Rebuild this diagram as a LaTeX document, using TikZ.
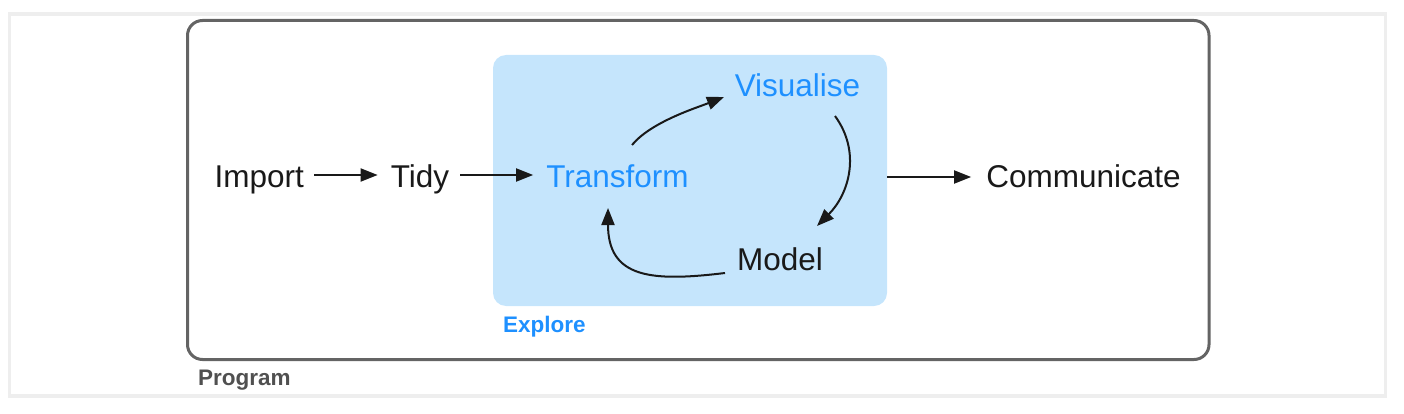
\documentclass[tikz,border=0pt]{standalone}
\usepackage{fontspec}
\setmainfont{Liberation Sans}
\usetikzlibrary{arrows.meta,calc}
\definecolor{exblue}{RGB}{30,144,255}
\definecolor{exfill}{RGB}{197,229,252}
\definecolor{framegray}{RGB}{238,238,238}
\definecolor{boxgray}{RGB}{100,100,100}
\definecolor{labgray}{RGB}{80,80,80}
\definecolor{ink}{RGB}{25,25,25}
\begin{document}
\begin{tikzpicture}[x=1pt,y=-1pt,
  lab/.style={font=\fontsize{31.5pt}{38pt}\selectfont, inner sep=0pt, text height=24pt, text depth=0pt, text=ink},
  bluelab/.style={lab, text=exblue},
  small/.style={font=\fontsize{22.5pt}{27pt}\selectfont\bfseries, inner sep=0pt, anchor=base west},
  arr/.style={draw=ink, line width=2pt, -{Triangle[length=17pt,width=13pt]}}
]
\useasboundingbox (0,0) rectangle (1404,414);
\draw[framegray, line width=3.5pt] (9.5,14) rectangle (1385.5,396);
\node[draw=boxgray, line width=3pt, rounded corners=15pt, minimum width=1021.5pt, minimum height=339pt, inner sep=0pt] (program) at (698.25,190) {};
\node[fill=exfill, rounded corners=13pt, minimum width=394pt, minimum height=251pt, inner sep=0pt] (explore) at (690,180.5) {};
\node[small, text=exblue] (explorelab) at (503,332) {Explore};
\node[small, text=labgray] (programlab) at (198,385) {Program};

\node[lab] (import) at (259.25,175) {Import};
\node[lab] (tidy) at (420,175) {Tidy};
\node[bluelab] (transform) at (617.5,175) {Transform};
\node[bluelab] (visualise) at (797.5,85) {Visualise};
\node[lab] (model) at (780,258) {Model};
\node[lab] (communicate) at (1083.5,176) {Communicate};

\draw[arr] ([xshift=10pt]import.east) -- ([xshift=-13pt]tidy.west);
\draw[arr] ([xshift=11pt]tidy.east) -- ([xshift=-13pt]transform.west);
\draw[arr] ($(explore.east |- communicate.west)+(0,1)$) -- ($(communicate.west)+(-15,1)$);

\draw[arr] ($(transform)+(14.5,-30)$) .. controls +(19,-23) and +(-28,11) .. ($(visualise)+(-73.5,12)$);
\draw[arr] ($(visualise)+(37.5,31)$) .. controls +(26.5,36.4) and +(31.8,-31.8) .. ($(model)+(37,-32)$);
\draw[arr] ($(model)+(-55,15)$) .. controls +(-74.2,9) and +(0,70) .. ($(transform)+(-9.5,33)$);
\end{tikzpicture}
\end{document}
